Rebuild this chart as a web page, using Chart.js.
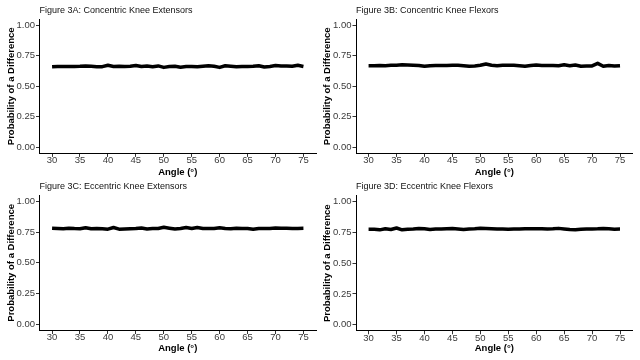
<!DOCTYPE html>
<html>
<head>
<meta charset="utf-8">
<script src="https://cdn.jsdelivr.net/npm/chart.js@4/dist/chart.umd.min.js"></script>
<style>
  html, body { margin: 0; padding: 0; background: #ffffff; width: 640px; height: 360px; overflow: hidden; }
  .panel { position: absolute; width: 320px; height: 180px; }
</style>
</head>
<body>
<div class="panel" style="left:0px;top:0px"><canvas id="cA" width="320" height="180"></canvas></div>
<div class="panel" style="left:320px;top:0px"><canvas id="cB" width="320" height="180"></canvas></div>
<div class="panel" style="left:0px;top:176px"><canvas id="cC" width="320" height="180"></canvas></div>
<div class="panel" style="left:320px;top:176px"><canvas id="cD" width="320" height="180"></canvas></div>
<script>
// ---- data ----
const angles = [30,31,32,33,34,35,36,37,38,39,40,41,42,43,44,45,46,47,48,49,50,51,52,53,54,55,56,57,58,59,60,61,62,63,64,65,66,67,68,69,70,71,72,73,74,75];

const concentricExtensors = [0.660,0.662,0.662,0.663,0.663,0.664,0.667,0.664,0.660,0.661,0.672,0.663,0.664,0.662,0.665,0.671,0.662,0.666,0.661,0.667,0.655,0.662,0.664,0.657,0.662,0.663,0.660,0.665,0.669,0.664,0.655,0.668,0.665,0.661,0.663,0.662,0.664,0.669,0.658,0.663,0.670,0.666,0.667,0.664,0.672,0.663];

const concentricFlexors = [0.668,0.668,0.671,0.669,0.672,0.673,0.676,0.674,0.672,0.671,0.664,0.669,0.670,0.670,0.671,0.672,0.672,0.669,0.664,0.667,0.672,0.683,0.672,0.668,0.673,0.673,0.673,0.669,0.664,0.670,0.675,0.670,0.670,0.671,0.669,0.676,0.668,0.674,0.664,0.666,0.667,0.688,0.664,0.670,0.666,0.669];

const eccentricExtensors = [0.782,0.780,0.777,0.782,0.779,0.778,0.786,0.777,0.780,0.778,0.774,0.787,0.774,0.776,0.778,0.779,0.784,0.776,0.779,0.780,0.789,0.782,0.776,0.779,0.787,0.779,0.787,0.779,0.780,0.779,0.785,0.779,0.777,0.781,0.779,0.780,0.774,0.780,0.779,0.780,0.784,0.781,0.781,0.779,0.780,0.781];

const eccentricFlexors = [0.776,0.776,0.772,0.781,0.775,0.787,0.772,0.777,0.778,0.782,0.780,0.775,0.779,0.779,0.781,0.783,0.779,0.775,0.779,0.781,0.785,0.783,0.781,0.779,0.778,0.776,0.779,0.779,0.781,0.781,0.781,0.780,0.779,0.780,0.784,0.779,0.775,0.773,0.777,0.779,0.779,0.780,0.783,0.780,0.777,0.778];

const panelTitles = ["Figure 3A: Concentric Knee Extensors","Figure 3B: Concentric Knee Flexors","Figure 3C: Eccentric Knee Extensors","Figure 3D: Eccentric Knee Flexors"];
const xTicks = [30,35,40,45,50,55,60,65,70,75];
const yTicks = [0,0.25,0.5,0.75,1];
const xAxisTitle = "Angle (°)";
const yAxisTitle = "Probability of a Difference";

// ---- drawing ----
const FONT = "'Liberation Sans', Arial, Helvetica, sans-serif";

function makeChart(id, title, values, geo) {
  const pts = angles.map((a, i) => ({ x: a, y: values[i] }));
  return new Chart(document.getElementById(id), {
    type: 'line',
    data: { datasets: [{ data: pts, borderColor: '#000000', borderWidth: 3.5, pointRadius: 0, tension: 0, fill: false, borderJoinStyle: 'round', borderCapStyle: 'butt' }] },
    options: {
      responsive: false,
      animation: false,
      devicePixelRatio: 1,
      layout: { padding: { left: 0, right: geo.padRight, top: 0, bottom: 0 } },
      plugins: {
        legend: { display: false },
        tooltip: { enabled: false },
        title: {
          display: true, text: title, align: 'start', fullSize: false, color: '#111111',
          font: { family: FONT, size: 9, weight: 'normal', lineHeight: 1.2 },
          padding: { top: 5.6, bottom: geo.titleBottom }
        }
      },
      scales: {
        x: {
          type: 'linear', min: 27.75, max: 77.25,
          afterBuildTicks: s => { s.ticks = xTicks.map(v => ({ value: v })); },
          afterFit: s => { s.height = geo.xHeight; },
          border: { display: true, color: '#000000', width: 1 },
          grid: { drawOnChartArea: false, drawTicks: true, tickLength: 3.5, color: '#333333' },
          ticks: { color: '#3a3a3a', font: { family: FONT, size: 9.5, lineHeight: 1 }, padding: -1, maxRotation: 0, autoSkip: false, callback: v => String(v) },
          title: { display: true, text: xAxisTitle, color: '#000000', font: { family: FONT, size: 9.5, weight: 'bold', lineHeight: 1.2 }, padding: { top: 0, bottom: 2.3 } }
        },
        y: {
          type: 'linear', min: -0.05, max: 1.05,
          afterBuildTicks: s => { s.ticks = yTicks.map(v => ({ value: v })); },
          afterFit: s => { s.width = geo.yWidth; },
          border: { display: true, color: '#000000', width: 1 },
          grid: { drawOnChartArea: false, drawTicks: true, tickLength: 3.5, color: '#333333' },
          ticks: { color: '#3a3a3a', font: { family: FONT, size: 9.5, lineHeight: 1 }, padding: 1, autoSkip: false, callback: v => Number(v).toFixed(2) },
          title: { display: true, text: yAxisTitle, color: '#000000', font: { family: FONT, size: 9.5, weight: 'bold', lineHeight: 1.2 }, padding: { top: geo.yTitlePad, bottom: 0 } }
        }
      }
    }
  });
}

makeChart('cA', panelTitles[0], concentricExtensors, { padRight: 4, titleBottom: 2.8, xHeight: 26.6, yWidth: 39.5, yTitlePad: 5.5 });
makeChart('cB', panelTitles[1], concentricFlexors,   { padRight: 7.4, titleBottom: 2.8, xHeight: 26.6, yWidth: 36, yTitlePad: 2.1 });
makeChart('cC', panelTitles[2], eccentricExtensors,  { padRight: 4, titleBottom: 2.8, xHeight: 25.5, yWidth: 39.5, yTitlePad: 5.5 });
makeChart('cD', panelTitles[3], eccentricFlexors,    { padRight: 7.4, titleBottom: 3.3, xHeight: 25.2, yWidth: 36, yTitlePad: 2.1 });
</script>
</body>
</html>
